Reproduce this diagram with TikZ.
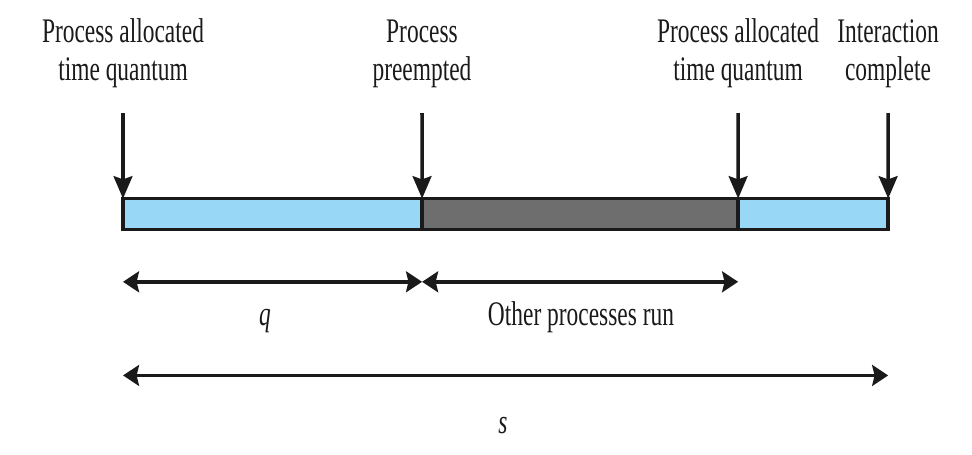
\documentclass[tikz,border=0pt]{standalone}
\usepackage{fontspec}
\setmainfont{Liberation Serif}[FakeStretch=0.68]
\usetikzlibrary{positioning}
\usetikzlibrary{arrows.meta}

\definecolor{quantumblue}{RGB}{152,216,246}
\definecolor{othergray}{RGB}{110,110,110}
\definecolor{inkdark}{RGB}{26,26,26}

\tikzset{
    slot/.style={draw=inkdark, line width=2.5pt, inner sep=0pt, outer sep=0pt, minimum height=0.77cm},
    eventlabel/.style={align=center, inner sep=0pt, text=inkdark, font=\fontsize{24.5}{27.5}\selectfont},
    spanlabel/.style={inner sep=0pt, anchor=base, text=inkdark, font=\fontsize{24.5}{27.5}\selectfont},
    drop/.style={draw=inkdark, line width=2.5pt, -{Stealth[length=0.56cm, width=0.47cm, inset=0.08cm]}},
    spanarrow/.style={draw=inkdark, line width=2.5pt,
        {Stealth[length=0.4cm, width=0.52cm, inset=0.06cm]}-{Stealth[length=0.4cm, width=0.52cm, inset=0.06cm]}},
}

\begin{document}
\begin{tikzpicture}[x=0.025cm, y=-0.025cm]
        \useasboundingbox (0,0) rectangle (972,454);

        % the time line
        \node[slot, fill=quantumblue, minimum width=7.475cm, anchor=west] (run1) at (123,214) {};
        \node[slot, fill=othergray, minimum width=7.9cm, right=0cm of run1] (wait) {};
        \node[slot, fill=quantumblue, minimum width=3.75cm, right=0cm of wait] (run2) {};

        % events
        \coordinate (d1) at (123,113);
        \coordinate (d2) at (422,113);
        \coordinate (d3) at (738,113);
        \coordinate (d4) at (888,113);

        \node[eventlabel, above=0.61cm of d1] (allocfirst) {Process allocated\\time quantum};
        \node[eventlabel, above=0.61cm of d2] (preempt) {Process\\preempted};
        \node[eventlabel, above=0.61cm of d3] (allocsecond) {Process allocated\\time quantum};
        \node[eventlabel, above=0.61cm of d4] (complete) {Interaction\\complete};

        \draw[drop] (d1) -- (run1.north west);
        \draw[drop] (d2) -- (wait.north west);
        \draw[drop] (d3) -- (run2.north west);
        \draw[drop] (d4) -- (run2.north east);

        % spans
        \coordinate[below=1.31cm of run1.south west] (q0);
        \coordinate[below=1.31cm of run1.south east] (q1);
        \coordinate[below=1.31cm of wait.south east] (o1);
        \coordinate[below=3.65cm of run1.south west] (s0);
        \coordinate[below=3.65cm of run2.south east] (s1);

        \draw[spanarrow] (q0) -- (q1);
        \draw[spanarrow] (q1) -- (o1);
        \draw[spanarrow] (s0) -- (s1);

        \node[spanlabel] (quantum) at (265,325) {\itshape q};
        \node[spanlabel] (others) at (581,325) {Other processes run};
        \node[spanlabel] (response) at (503,433) {\itshape s};

    \end{tikzpicture}
\end{document}
